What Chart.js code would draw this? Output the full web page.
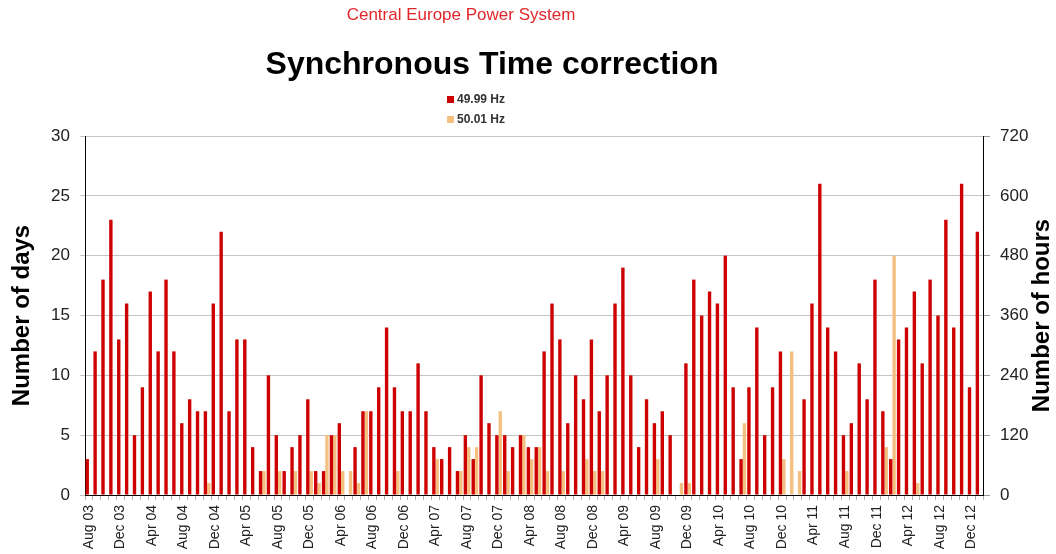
<!DOCTYPE html>
<html><head><meta charset="utf-8">
<script src="https://cdn.jsdelivr.net/npm/chart.js@4.4.1/dist/chart.umd.min.js"></script>
<style>
html,body{margin:0;padding:0;background:#fff;}
#wrap{position:relative;width:1056px;height:554px;font-family:"Liberation Sans",Arial,sans-serif;overflow:hidden;}
canvas{position:absolute;left:0;top:0;}
.t{position:absolute;white-space:nowrap;line-height:1;}
.sw{position:absolute;width:7px;height:7px;}
.lt{position:absolute;font-size:12px;font-weight:bold;color:#333;line-height:1;white-space:nowrap;}
</style></head><body>
<div id="wrap">
<canvas id="c" width="1056" height="554"></canvas>
<div class="t" style="left:0;width:922px;text-align:center;top:6px;font-size:17px;color:#e0262b;">Central Europe Power System</div>
<div class="t" style="left:0;width:984px;text-align:center;top:47px;font-size:32px;font-weight:bold;color:#000;">Synchronous Time correction</div>
<div class="sw" id="sw0" style="left:447px;top:96px;"></div>
<div class="lt" id="lt0" style="left:457px;top:93px;"></div>
<div class="sw" id="sw1" style="left:447px;top:116px;"></div>
<div class="lt" id="lt1" style="left:457px;top:113px;"></div>
</div>
<script>
const months = [
 "Aug 03","Sep 03","Oct 03","Nov 03","Dec 03",
 "Jan 04","Feb 04","Mar 04","Apr 04","May 04","Jun 04","Jul 04","Aug 04","Sep 04","Oct 04","Nov 04","Dec 04",
 "Jan 05","Feb 05","Mar 05","Apr 05","May 05","Jun 05","Jul 05","Aug 05","Sep 05","Oct 05","Nov 05","Dec 05",
 "Jan 06","Feb 06","Mar 06","Apr 06","May 06","Jun 06","Jul 06","Aug 06","Sep 06","Oct 06","Nov 06","Dec 06",
 "Jan 07","Feb 07","Mar 07","Apr 07","May 07","Jun 07","Jul 07","Aug 07","Sep 07","Oct 07","Nov 07","Dec 07",
 "Jan 08","Feb 08","Mar 08","Apr 08","May 08","Jun 08","Jul 08","Aug 08","Sep 08","Oct 08","Nov 08","Dec 08",
 "Jan 09","Feb 09","Mar 09","Apr 09","May 09","Jun 09","Jul 09","Aug 09","Sep 09","Oct 09","Nov 09","Dec 09",
 "Jan 10","Feb 10","Mar 10","Apr 10","May 10","Jun 10","Jul 10","Aug 10","Sep 10","Oct 10","Nov 10","Dec 10",
 "Jan 11","Feb 11","Mar 11","Apr 11","May 11","Jun 11","Jul 11","Aug 11","Sep 11","Oct 11","Nov 11","Dec 11",
 "Jan 12","Feb 12","Mar 12","Apr 12","May 12","Jun 12","Jul 12","Aug 12","Sep 12","Oct 12","Nov 12","Dec 12",
 "Jan 13"
];
const days4999 = [
 3,12,18,23,13,16,5,9,17,12,
 18,12,6,8,7,7,16,22,7,13,
 13,4,2,10,5,2,4,5,8,2,
 2,5,6,0,4,7,7,9,14,9,
 7,7,11,7,4,3,4,2,5,3,
 10,6,5,5,4,5,4,4,12,16,
 13,6,10,8,13,7,10,16,19,10,
 4,8,6,7,5,0,11,18,15,17,
 16,20,9,3,9,14,5,9,12,0,
 0,8,16,26,14,12,5,6,11,8,
 18,7,3,13,14,17,11,18,15,23,
 14,26,9,22
];
const days5001 = [
 0,0,0,0,0,0,0,0,0,0,
 0,0,0,0,0,1,0,0,0,0,
 0,0,2,0,2,0,2,0,2,1,
 5,5,2,2,1,7,0,0,0,2,
 0,0,0,0,3,0,0,2,4,4,
 0,0,7,2,0,5,3,4,2,0,
 2,0,0,3,2,2,0,0,0,0,
 0,0,3,0,0,1,1,0,0,0,
 0,0,0,6,0,0,0,0,3,12,
 2,0,0,0,0,0,2,0,0,0,
 0,4,20,0,0,1,0,0,0,0,
 0,0,0,0
];
const daysTicks = [0,5,10,15,20,25,30];
const hoursTicks = [0,120,240,360,480,600,720];
const seriesNames = ["49.99 Hz","50.01 Hz"];
const seriesColors = ["#cc0000","#f4c07f"];

for (let i = 0; i < 2; i++) {
  document.getElementById('sw'+i).style.background = seriesColors[i];
  document.getElementById('lt'+i).textContent = seriesNames[i];
}

const FONT = "'Liberation Sans', Arial, sans-serif";

const rightTitle = {
  id: 'rightTitle',
  afterDraw(chart) {
    const ca = chart.chartArea;
    const ctx = chart.ctx;
    ctx.save();
    ctx.translate(1042, (ca.top + ca.bottom) / 2);
    ctx.rotate(-Math.PI / 2);
    ctx.font = "bold 24px " + FONT;
    ctx.fillStyle = "#000";
    ctx.textAlign = "center";
    ctx.textBaseline = "middle";
    ctx.fillText("Number of hours", 0, 0);
    ctx.restore();
  }
};

new Chart(document.getElementById('c'), {
  type: 'bar',
  data: {
    labels: months,
    datasets: [
      { label: seriesNames[0], data: days4999, backgroundColor: seriesColors[0], borderWidth: 0, barPercentage: 1, categoryPercentage: 0.86, yAxisID: 'y' },
      { label: seriesNames[1], data: days5001, backgroundColor: seriesColors[1], borderWidth: 0, barPercentage: 1, categoryPercentage: 0.86, yAxisID: 'y' }
    ]
  },
  options: {
    responsive: false,
    devicePixelRatio: 1,
    animation: false,
    layout: { padding: { top: 136, left: 0, right: 0, bottom: 0 } },
    plugins: { legend: { display: false }, title: { display: false }, tooltip: { enabled: false } },
    scales: {
      x: {
        type: 'category',
        offset: true,
        afterFit(s) { s.height = 59; },
        grid: { display: true, drawOnChartArea: false, drawTicks: true, tickLength: 5, color: '#b0b0b0' },
        border: { display: true, color: '#000', width: 1 },
        ticks: {
          autoSkip: false, maxRotation: 90, minRotation: 90, padding: 5,
          color: '#222', font: { family: FONT, size: 14 },
          callback(v, i) { return i % 4 === 0 ? this.getLabelForValue(v) : ''; }
        }
      },
      y: {
        position: 'left',
        min: 0, max: 30,
        afterFit(s) { s.width = 85; },
        afterBuildTicks(s) { s.ticks = daysTicks.map(v => ({ value: v })); },
        grid: { color: '#c4c4c4', lineWidth: 1, tickLength: 5, drawTicks: true },
        border: { display: true, color: '#000', width: 1 },
        ticks: { padding: 10, color: '#222', font: { family: FONT, size: 17 } },
        title: { display: true, text: 'Number of days', color: '#000', font: { family: FONT, size: 24, weight: 'bold' }, padding: { top: 8, bottom: 0 } }
      },
      y2: {
        position: 'right',
        min: 0, max: 720,
        afterFit(s) { s.width = 73; },
        afterBuildTicks(s) { s.ticks = hoursTicks.map(v => ({ value: v })); },
        grid: { drawOnChartArea: false, drawTicks: true, tickLength: 7, color: '#999' },
        border: { display: true, color: '#000', width: 1 },
        ticks: { padding: 10, color: '#222', font: { family: FONT, size: 17 } }
      }
    }
  },
  plugins: [rightTitle]
});
</script>
</body></html>
